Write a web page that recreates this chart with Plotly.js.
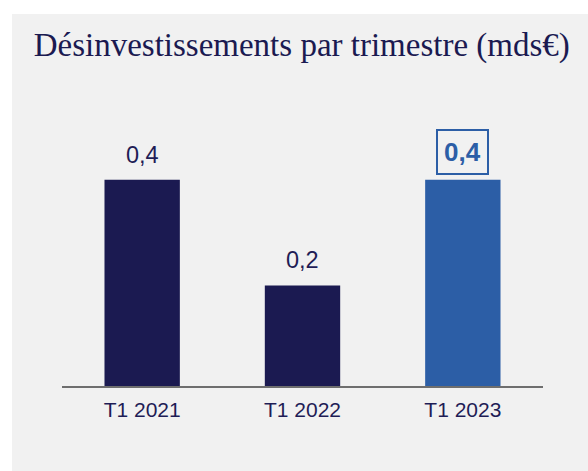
<!DOCTYPE html>
<html>
<head>
<meta charset="utf-8">
<script src="https://cdn.plot.ly/plotly-3.0.1.min.js"></script>
<style>
  html, body { margin: 0; padding: 0; background: #ffffff; width: 588px; height: 471px; overflow: hidden; }
  #chart { position: absolute; left: 12px; top: 14px; width: 576px; height: 457px; }
</style>
</head>
<body>
<div id="chart"></div>
<script>
// Data
const categories = ["T1 2021", "T1 2022", "T1 2023"];
const values = [0.41, 0.2, 0.41];
const barColors = ["#1b1a51", "#1b1a51", "#2c5ea6"];
const highlighted = [false, false, true];
const titleText = "Désinvestissements par trimestre (mds€)";

function fmt(v) { return v.toFixed(1).replace(".", ","); }

const trace = {
  type: "bar",
  x: categories,
  y: values,
  marker: { color: barColors },
  width: 0.47,
  hoverinfo: "none"
};

const annotations = categories.map((c, i) => {
  const hl = highlighted[i];
  return {
    x: c, y: values[i], xref: "x", yref: "y",
    text: hl ? "<b>" + fmt(values[i]) + "</b>" : fmt(values[i]),
    showarrow: false,
    yanchor: "middle",
    yshift: hl ? 28 : 25,
    font: { family: "Liberation Sans, Arial, sans-serif", size: hl ? 26 : 23.5, color: hl ? "#2c5ea6" : "#1f1d56" },
    bordercolor: hl ? "#2c5ea6" : "rgba(0,0,0,0)",
    borderwidth: hl ? 2 : 0,
    borderpad: hl ? 6 : 0
  };
});

const layout = {
  width: 576, height: 457,
  paper_bgcolor: "#f1f1f1",
  plot_bgcolor: "#f1f1f1",
  margin: { l: 50, r: 45, t: 122, b: 85 },
  title: {
    text: titleText,
    font: { family: "Liberation Serif, Times New Roman, serif", size: 33, color: "#1b1a51" },
    x: 0.503, xref: "container", xanchor: "center",
    y: 0.934, yref: "container", yanchor: "middle"
  },
  xaxis: {
    type: "category",
    range: [-0.5, 2.5],
    showline: true, linecolor: "#6e6e6e", linewidth: 2,
    ticks: "",
    ticklabelstandoff: 4,
    showgrid: false, zeroline: false,
    tickfont: { family: "Liberation Sans, Arial, sans-serif", size: 21, color: "#1f1d56" }
  },
  yaxis: {
    range: [0, 0.497],
    visible: false,
    showgrid: false, zeroline: false
  },
  showlegend: false,
  annotations: annotations
};

Plotly.newPlot("chart", [trace], layout, { staticPlot: true, displayModeBar: false });
</script>
</body>
</html>
